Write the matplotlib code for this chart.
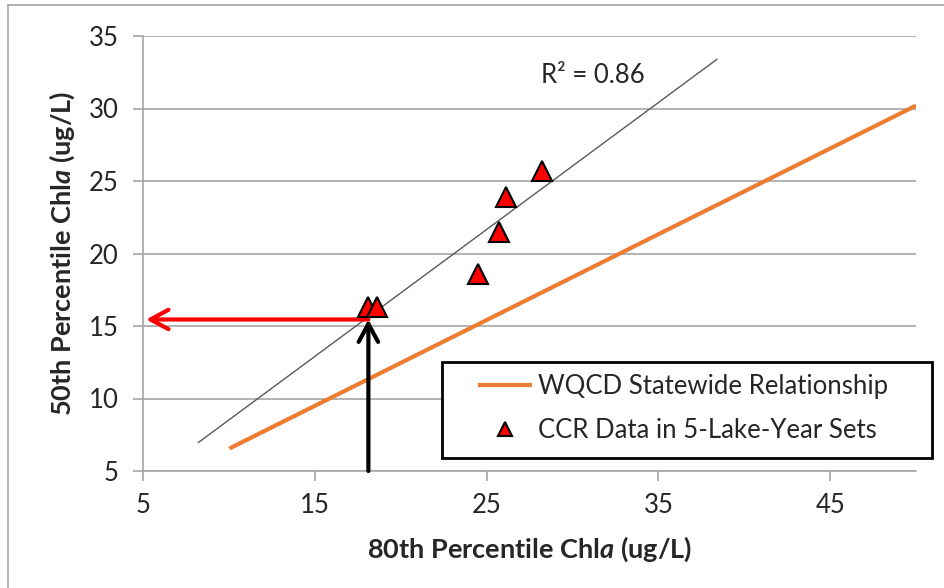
import numpy as np
import matplotlib
matplotlib.use("Agg")
import matplotlib.pyplot as plt
from matplotlib.lines import Line2D
from matplotlib.patches import Rectangle

plt.rcParams['font.family'] = ['Lato', 'DejaVu Sans']
plt.rcParams['mathtext.fontset'] = 'custom'
plt.rcParams['mathtext.rm'] = 'Lato'
plt.rcParams['mathtext.bf'] = 'Lato:bold'
plt.rcParams['mathtext.bfit'] = 'Lato:bold:italic'

# CCR data points (80th percentile vs 50th percentile Chl a)
ccr_x = [18.1, 18.6, 24.5, 25.7, 26.1, 28.2]
ccr_y = [16.3, 16.3, 18.6, 21.5, 23.9, 25.7]

# WQCD statewide relationship end points
wqcd_x = [10.0, 50.0]
wqcd_y = [6.55, 30.2]

# range over which the trend line is drawn
trend_x = [8.2, 38.4]

# read-off point (arrows)
read_x = 18.1
read_y = 15.45

x_ticks = [5, 15, 25, 35, 45]
y_ticks = [5, 10, 15, 20, 25, 30, 35]

txt_c = '#262626'
grid_c = '#a6a6a6'

fig = plt.figure(figsize=(9.45, 5.88), dpi=100)
ax = fig.add_axes([143.5 / 945, 1 - 471 / 588, (916 - 143.5) / 945, (471 - 36) / 588])

ax.set_xlim(5, 50)
ax.set_ylim(5, 35)
ax.set_xticks(x_ticks)
ax.set_yticks(y_ticks)
ax.yaxis.grid(True, color=grid_c, lw=1.2)
ax.set_axisbelow(True)
for s in ['top', 'right']:
    ax.spines[s].set_visible(False)
for s in ['left', 'bottom']:
    ax.spines[s].set_color(grid_c)
    ax.spines[s].set_linewidth(1.2)
ax.tick_params(axis='both', colors=grid_c, length=7, width=1.2, labelsize=18.5,
               labelcolor=txt_c)
ax.tick_params(axis='x', pad=9)
ax.tick_params(axis='y', pad=11)

# trend line from least squares fit of CCR data
k, b = np.polyfit(ccr_x, ccr_y, 1)
tx = np.array(trend_x)
ax.plot(tx, k * tx + b, color='#595959', lw=1.0, zorder=2)
ax.text(31.2, 32.25, 'R² = 0.86', fontsize=18.5, color=txt_c, ha='center', va='center')

ax.plot(wqcd_x, wqcd_y, color='#ED7D31', lw=3, solid_capstyle='butt', zorder=3,
        label='WQCD Statewide Relationship')

# arrows
arrow_style = '->,head_length=1.3,head_width=0.7'
ax.annotate('', xy=(5.15, read_y), xytext=(read_x, read_y),
            arrowprops=dict(arrowstyle=arrow_style, color='#ff0000', lw=3,
                            shrinkA=0, shrinkB=0), zorder=4)
ax.annotate('', xy=(read_x, read_y), xytext=(read_x, 5),
            arrowprops=dict(arrowstyle=arrow_style, color='black', lw=3,
                            shrinkA=0, shrinkB=0), zorder=4)

ax.plot(ccr_x, ccr_y, linestyle='none', marker='^', markersize=14,
        markerfacecolor='#ff0000', markeredgecolor='black', markeredgewidth=1.5,
        zorder=5, label='CCR Data in 5-Lake-Year Sets')

# legend box drawn separately so the entries can sit inset like the original
box = Rectangle((0.3864, 0.03), 0.634, 0.2207, transform=ax.transAxes,
                facecolor='white', edgecolor='black', lw=2, clip_on=False, zorder=6)
ax.add_patch(box)
leg = ax.legend(loc='center left', bbox_to_anchor=(0.433, 0.1437), frameon=False,
                fontsize=18.5, handlelength=2.1, handletextpad=0.25,
                borderpad=0, borderaxespad=0, labelspacing=0.75,
                markerscale=0.75)
leg.set_zorder(7)
for t in leg.get_texts():
    t.set_color(txt_c)

ax.set_xlabel('80th Percentile Chl$\\mathbfit{a}$ (ug/L)', fontsize=19.5, fontweight='bold',
              color=txt_c, labelpad=12)
ax.set_ylabel('50th Percentile Chl$\\mathbfit{a}$ (ug/L)', fontsize=19.5, fontweight='bold',
              color=txt_c, labelpad=8)

# outer chart border
fig.add_artist(Line2D([8 / 945, 8 / 945], [0, 1 - 5 / 588], color=grid_c, lw=1.2,
                      transform=fig.transFigure))
fig.add_artist(Line2D([8 / 945, 1], [1 - 5 / 588, 1 - 5 / 588], color=grid_c, lw=1.2,
                      transform=fig.transFigure))

fig.savefig('out.png', dpi=100)
